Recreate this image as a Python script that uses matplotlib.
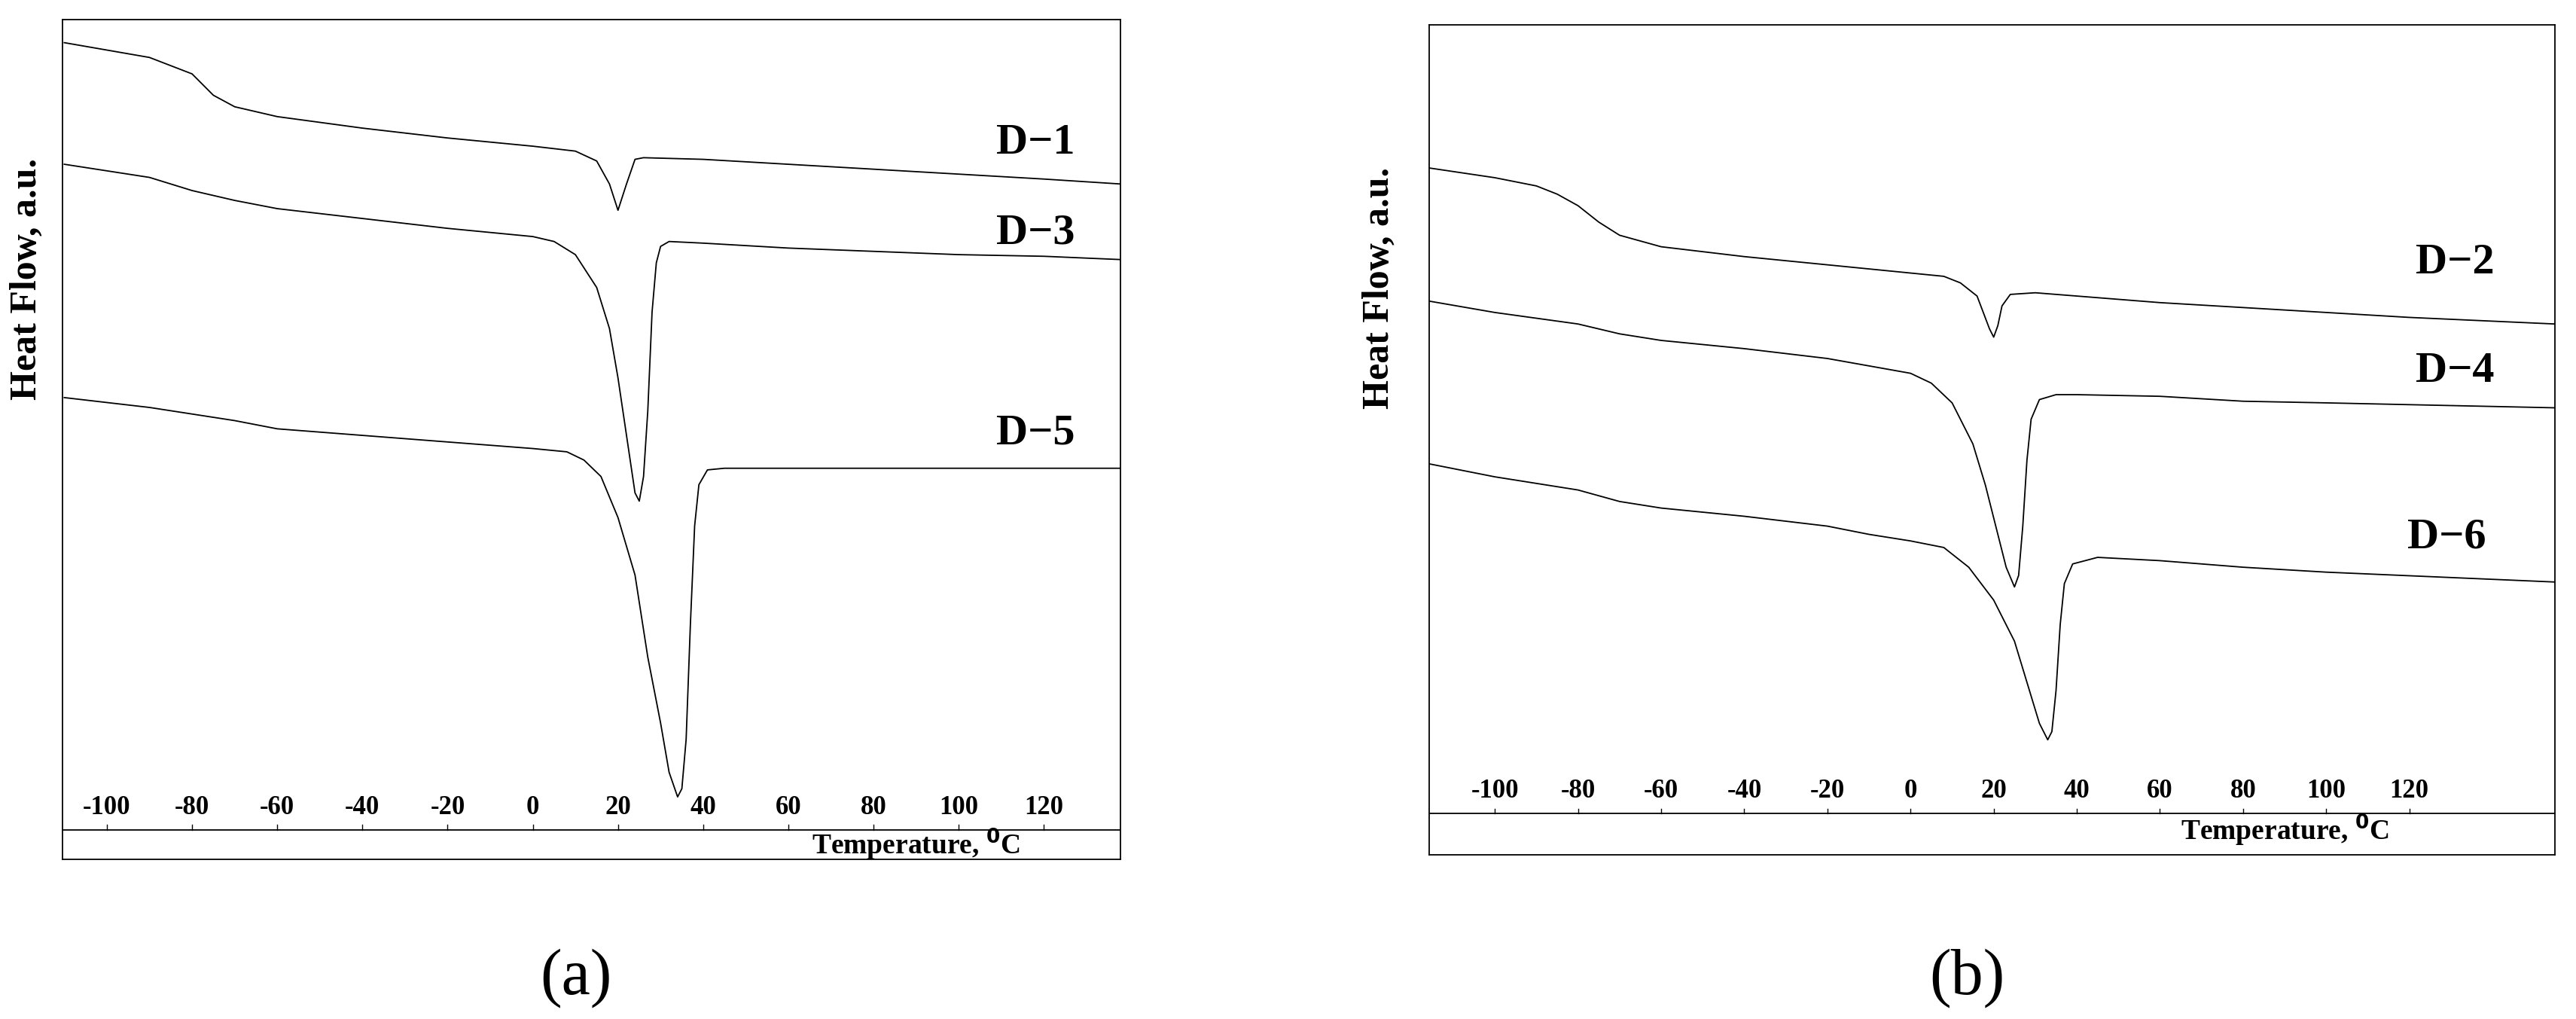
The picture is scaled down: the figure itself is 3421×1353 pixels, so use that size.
import numpy as np
import matplotlib.pyplot as plt

plt.rcParams["font.family"] = ["Liberation Serif", "DejaVu Serif"]

# panel (a) curves: temperature (deg C) and heat flow (a.u., read as screen depth, larger = lower)
t_d1 = [-110, -90, -80, -75, -70, -60, -40, -20, 0, 10, 15, 18, 20, 22, 24, 26, 40, 60, 80, 100, 120, 138]
h_d1 = [26, 35, 45, 58, 65, 71, 78, 84, 89, 92, 98, 112, 128, 112, 97, 96, 97, 100, 103, 106, 109, 112]
t_d3 = [-110, -90, -80, -70, -60, -40, -20, 0, 5, 10, 15, 18, 20, 22, 24, 25, 26, 27, 28, 29, 30, 32, 40, 60, 80, 100, 120, 138]
h_d3 = [100, 108, 116, 122, 127, 133, 139, 144, 147, 155, 175, 200, 230, 265, 300, 305, 290, 250, 190, 160, 150, 147, 148, 151, 153, 155, 156, 158]
t_d5 = [-110, -90, -80, -70, -60, -40, -20, 0, 8, 12, 16, 20, 24, 27, 30, 32, 34, 35, 36, 37, 38, 39, 41, 45, 138]
h_d5 = [242, 248, 252, 256, 261, 265, 269, 273, 275, 280, 290, 315, 350, 400, 440, 470, 485, 480, 450, 380, 320, 295, 286, 285, 285]

# panel (b) curves
t_d2 = [-116, -100, -90, -85, -80, -75, -70, -60, -40, -20, 0, 8, 12, 16, 19, 20, 21, 22, 24, 30, 60, 80, 100, 120, 155]
h_d2 = [102, 108, 113, 118, 125, 135, 143, 150, 156, 161, 166, 168, 172, 180, 200, 205, 198, 186, 179, 178, 184, 187, 190, 193, 197]
t_d4 = [-116, -100, -80, -70, -60, -40, -20, 0, 5, 10, 15, 18, 21, 23, 25, 26, 27, 28, 29, 31, 35, 40, 60, 80, 100, 155]
h_d4 = [183, 190, 197, 203, 207, 212, 218, 227, 233, 245, 270, 295, 325, 345, 357, 350, 320, 280, 255, 243, 240, 240, 241, 244, 245, 248]
t_d6 = [-116, -100, -80, -70, -60, -40, -20, -10, 0, 8, 14, 20, 25, 28, 31, 33, 34, 35, 36, 37, 39, 45, 60, 80, 100, 155]
h_d6 = [282, 290, 298, 305, 309, 314, 320, 325, 329, 333, 345, 365, 390, 415, 440, 450, 445, 420, 380, 355, 343, 339, 341, 345, 348, 354]

ticks = list(range(-100, 121, 20))

fig = plt.figure(figsize=(34.21, 13.53), dpi=100)


def panel(rect, xlim, ylim, axis_y, curves, labels, label_pos, ylab_x, ylab_y, tag, tag_x):
    ax = fig.add_axes(rect)
    for t, h in curves:
        ax.plot(t, h, color="black", lw=1.3)
    for txt, (x, y) in zip(labels, label_pos):
        ax.text(x, y, txt, fontsize=42, fontweight="bold", ha="center", va="center")
    ax.axhline(axis_y, color="black", lw=1.3)
    for tk in ticks:
        ax.plot([tk, tk], [axis_y, axis_y - 3], color="black", lw=1.0)
        ax.text(tk, axis_y - 6, str(tk), fontsize=25, fontweight="bold", ha="center", va="bottom")
    ax.set_xlim(*xlim)
    ax.set_ylim(ylim[1], ylim[0])
    ax.set_xticks([])
    ax.set_yticks([])
    for s in ax.spines.values():
        s.set_linewidth(1.3)
    fig.text(ylab_x, ylab_y, "Heat Flow, a.u.", rotation=90, fontsize=36, fontweight="bold",
             ha="center", va="center")
    fig.text(tag_x, 0.04, tag, fontsize=62, ha="center", va="center")
    return ax


ax1 = panel([0.0243, 0.1567, 0.4107, 0.824], (-110.4, 138), (12, 523), 505,
            [(t_d1, h_d1), (t_d3, h_d3), (t_d5, h_d5)],
            ["D\u22121", "D\u22123", "D\u22125"], [(118, 87), (118, 142), (118, 264)],
            0.0105, 0.726, "(a)", 0.2235)
ax1.text(90, 514, "Temperature, $\\mathbf{^0}$C", fontsize=27, fontweight="bold", ha="center", va="center")

ax2 = panel([0.5548, 0.1611, 0.437, 0.8145], (-115.8, 155), (15, 520), 495,
            [(t_d2, h_d2), (t_d4, h_d4), (t_d6, h_d6)],
            ["D\u22122", "D\u22124", "D\u22126"], [(131, 160), (131, 226), (129, 327)],
            0.5355, 0.717, "(b)", 0.7635)
ax2.text(90, 505, "Temperature, $\\mathbf{^0}$C", fontsize=27, fontweight="bold", ha="center", va="center")

fig.savefig("out.png", dpi=100)
